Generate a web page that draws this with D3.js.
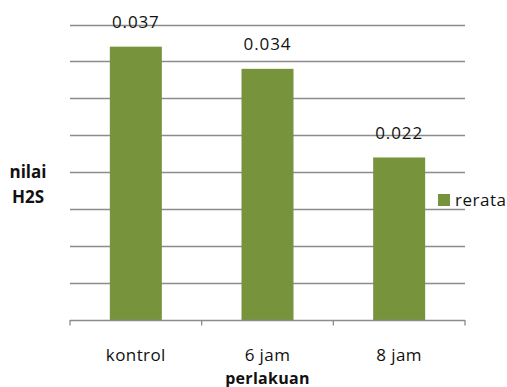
<!DOCTYPE html>
<html>
<head>
<meta charset="utf-8">
<script src="https://cdn.jsdelivr.net/npm/d3@7/dist/d3.min.js"></script>
<style>
  html, body { margin: 0; padding: 0; background: #ffffff; }
  svg { display: block; }
  text { font-family: "Open Sans", "Liberation Sans", sans-serif; }
</style>
</head>
<body>
<svg id="chart" width="507" height="387"></svg>
<script>
const categories = ["kontrol", "6 jam", "8 jam"];
const values = [0.037, 0.034, 0.022];
const valueLabels = ["0.037", "0.034", "0.022"];
const yTicks = [0, 0.005, 0.01, 0.015, 0.02, 0.025, 0.03, 0.035, 0.04];
const seriesName = "rerata";
const xTitle = "perlakuan";
const yTitle = ["nilai", "H2S"];

const svg = d3.select("#chart");
const plotLeft = 70, plotRight = 465, plotTop = 24.5, plotBottom = 320;

const x = d3.scaleBand().domain(categories).range([plotLeft, plotRight])
  .paddingInner(0.605).paddingOuter(0.3025);
const y = d3.scaleLinear().domain([0, 0.04]).range([plotBottom, plotTop]);

const grid = "#8c8c8c";
const barColor = "#77933c";
const textColor = "#111111";

// gridlines
svg.append("g").selectAll("line").data(yTicks.slice(1)).join("line")
  .attr("x1", plotLeft).attr("x2", plotRight)
  .attr("y1", d => Math.round(y(d)) + 0.5).attr("y2", d => Math.round(y(d)) + 0.5)
  .attr("stroke", grid).attr("stroke-width", 1.3);

// bars
svg.append("g").selectAll("rect").data(values).join("rect")
  .attr("x", (d, i) => x(categories[i]))
  .attr("width", x.bandwidth())
  .attr("y", d => y(d))
  .attr("height", d => plotBottom - y(d))
  .attr("fill", barColor);

// x axis
const xAxis = d3.axisBottom(x).tickSize(0).tickFormat("");
const ax = svg.append("g").attr("transform", `translate(0,${plotBottom + 0.5})`).call(xAxis);
ax.select(".domain").attr("stroke", grid).attr("stroke-width", 1.3).attr("d", `M${plotLeft},0H${plotRight}`);
const step = x.step();
const bounds = d3.range(categories.length + 1).map(i => plotLeft + i * step);
svg.append("g").selectAll("line").data(bounds).join("line")
  .attr("x1", d => d).attr("x2", d => d)
  .attr("y1", plotBottom).attr("y2", plotBottom + 5.5)
  .attr("stroke", grid).attr("stroke-width", 1.3);

// category labels
svg.append("g").selectAll("text").data(categories).join("text")
  .attr("x", d => x(d) + x.bandwidth() / 2)
  .attr("y", 361)
  .attr("text-anchor", "middle")
  .attr("font-size", 17).attr("letter-spacing", 0.4)
  .attr("fill", textColor)
  .text(d => d);

// value labels
svg.append("g").selectAll("text").data(values).join("text")
  .attr("x", (d, i) => x(categories[i]) + x.bandwidth() / 2)
  .attr("y", d => y(d) - 18.5)
  .attr("text-anchor", "middle")
  .attr("font-size", 17).attr("letter-spacing", 0.9)
  .attr("fill", textColor)
  .text((d, i) => valueLabels[i]);

// x title
svg.append("text")
  .attr("x", (plotLeft + plotRight) / 2).attr("y", 383.5)
  .attr("text-anchor", "middle")
  .attr("font-size", 16).attr("font-weight", "bold").attr("letter-spacing", 0.3)
  .attr("fill", textColor)
  .text(xTitle);

// y title
svg.append("g").selectAll("text").data(yTitle).join("text")
  .attr("x", 28).attr("y", (d, i) => 178 + i * 25)
  .attr("text-anchor", "middle")
  .attr("font-size", 17).attr("font-weight", "bold")
  .attr("fill", textColor)
  .text(d => d);

// legend
const lg = svg.append("g");
lg.append("rect").attr("x", 438).attr("y", 194).attr("width", 12).attr("height", 12).attr("fill", barColor);
lg.append("text").attr("x", 455).attr("y", 206)
  .attr("font-size", 17).attr("letter-spacing", 0.5)
  .attr("fill", textColor)
  .text(seriesName);
</script>
</body>
</html>
